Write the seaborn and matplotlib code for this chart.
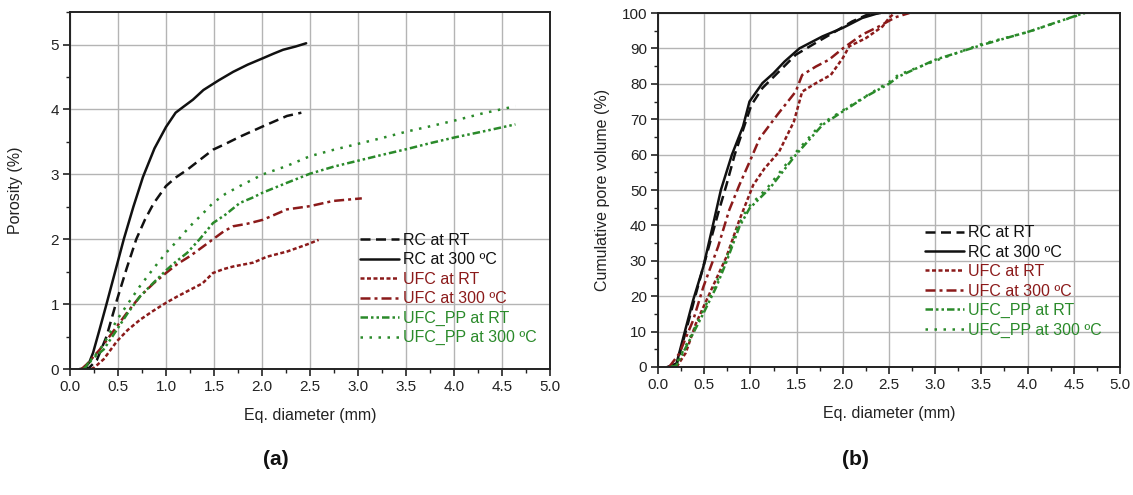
import matplotlib
matplotlib.use("Agg")
import matplotlib.pyplot as plt
from matplotlib.ticker import MultipleLocator
import seaborn as sns
import pandas as pd

# ---- (a) porosity vs equivalent diameter ----
rc_rt_d = [0.15, 0.20, 0.28, 0.38, 0.49, 0.59, 0.69, 0.78, 0.87, 1.00, 1.10, 1.22, 1.35, 1.49, 1.62, 1.77, 2.01, 2.26, 2.41]
rc_rt_por = [0.00, 0.02, 0.14, 0.50, 1.07, 1.55, 2.00, 2.30, 2.55, 2.82, 2.95, 3.07, 3.22, 3.38, 3.47, 3.58, 3.74, 3.90, 3.95]

rc_300_d = [0.10, 0.15, 0.20, 0.24, 0.31, 0.38, 0.47, 0.56, 0.66, 0.76, 0.88, 1.00, 1.10, 1.18, 1.28, 1.39, 1.55, 1.70, 1.85, 2.01, 2.12, 2.22, 2.35, 2.46]
rc_300_por = [0.00, 0.01, 0.10, 0.25, 0.62, 1.00, 1.50, 2.00, 2.50, 2.96, 3.40, 3.73, 3.95, 4.04, 4.15, 4.30, 4.45, 4.58, 4.69, 4.79, 4.86, 4.92, 4.97, 5.02]

ufc_rt_d = [0.22, 0.25, 0.35, 0.49, 0.60, 0.73, 0.87, 1.00, 1.12, 1.25, 1.38, 1.49, 1.60, 1.70, 1.91, 2.05, 2.26, 2.47, 2.59]
ufc_rt_por = [0.00, 0.02, 0.15, 0.43, 0.60, 0.76, 0.90, 1.02, 1.12, 1.22, 1.32, 1.48, 1.54, 1.58, 1.64, 1.73, 1.81, 1.92, 1.99]

ufc_300_d = [0.12, 0.18, 0.31, 0.49, 0.60, 0.73, 0.87, 1.00, 1.12, 1.25, 1.38, 1.49, 1.60, 1.70, 1.85, 2.01, 2.26, 2.50, 2.74, 3.04]
ufc_300_por = [0.00, 0.08, 0.30, 0.66, 0.88, 1.12, 1.32, 1.48, 1.62, 1.74, 1.88, 2.00, 2.12, 2.20, 2.24, 2.30, 2.46, 2.51, 2.59, 2.63]

ufcpp_rt_d = [0.15, 0.20, 0.35, 0.49, 0.60, 0.73, 0.87, 1.00, 1.10, 1.22, 1.35, 1.49, 1.62, 1.77, 1.90, 2.01, 2.26, 2.50, 2.75, 3.00, 3.25, 3.51, 3.75, 4.01, 4.30, 4.64]
ufcpp_rt_por = [0.00, 0.12, 0.30, 0.61, 0.86, 1.12, 1.33, 1.52, 1.65, 1.79, 2.00, 2.25, 2.38, 2.56, 2.64, 2.72, 2.87, 3.01, 3.12, 3.21, 3.30, 3.39, 3.48, 3.57, 3.66, 3.77]

ufcpp_300_d = [0.14, 0.20, 0.35, 0.49, 0.60, 0.73, 0.87, 1.00, 1.12, 1.25, 1.38, 1.49, 1.62, 1.77, 2.01, 2.26, 2.50, 2.75, 3.00, 3.25, 3.51, 3.75, 4.01, 4.30, 4.64]
ufcpp_300_por = [0.00, 0.09, 0.38, 0.76, 1.00, 1.28, 1.55, 1.79, 1.98, 2.20, 2.39, 2.56, 2.70, 2.82, 3.00, 3.13, 3.28, 3.38, 3.47, 3.56, 3.66, 3.74, 3.83, 3.94, 4.05]

# ---- (b) cumulative pore volume vs equivalent diameter ----
rc_rt_cd = [0.15, 0.20, 0.30, 0.43, 0.54, 0.65, 0.74, 0.83, 0.92, 1.01, 1.13, 1.31, 1.49, 1.67, 1.92, 2.10, 2.28, 2.41]
rc_rt_cum = [0.0, 0.5, 10.0, 22.6, 33.0, 43.4, 51.4, 60.0, 67.0, 74.0, 78.8, 83.5, 88.2, 91.0, 94.8, 97.6, 99.7, 100.0]

rc_300_cd = [0.10, 0.20, 0.29, 0.38, 0.49, 0.59, 0.68, 0.80, 0.92, 0.99, 1.13, 1.25, 1.37, 1.53, 1.78, 2.00, 2.21, 2.39]
rc_300_cum = [0.0, 1.0, 10.0, 18.9, 28.3, 39.6, 50.0, 60.0, 68.0, 75.0, 80.2, 83.0, 86.3, 90.0, 93.4, 95.8, 98.6, 100.0]

ufc_rt_cd = [0.20, 0.30, 0.41, 0.59, 0.74, 0.88, 1.03, 1.15, 1.31, 1.47, 1.56, 1.71, 1.87, 2.00, 2.07, 2.25, 2.43, 2.50, 2.56]
ufc_rt_cum = [0.0, 4.0, 12.3, 22.6, 31.1, 41.5, 51.4, 56.0, 60.8, 69.3, 77.8, 80.2, 82.5, 87.3, 90.6, 92.9, 96.2, 98.6, 100.0]

ufc_300_cd = [0.12, 0.23, 0.38, 0.49, 0.65, 0.77, 0.88, 1.00, 1.10, 1.29, 1.49, 1.56, 1.71, 1.85, 2.00, 2.21, 2.39, 2.57, 2.72]
ufc_300_cum = [0.0, 3.8, 13.2, 22.6, 34.0, 44.3, 51.4, 58.5, 64.6, 71.2, 77.8, 82.5, 84.9, 86.8, 90.0, 93.9, 96.2, 98.8, 100.0]

ufcpp_rt_cd = [0.15, 0.20, 0.34, 0.49, 0.63, 0.74, 0.88, 0.99, 1.21, 1.49, 1.78, 2.00, 2.25, 2.50, 2.60, 3.00, 3.51, 4.02, 4.61]
ufcpp_rt_cum = [0.0, 0.5, 7.5, 15.1, 22.6, 29.7, 39.6, 44.8, 50.5, 59.9, 68.4, 72.2, 76.4, 80.0, 82.0, 86.8, 91.0, 94.8, 100.0]

ufcpp_300_cd = [0.14, 0.20, 0.33, 0.48, 0.62, 0.73, 0.86, 0.97, 1.18, 1.47, 1.76, 2.00, 2.25, 2.50, 2.60, 3.00, 3.50, 4.00, 4.62]
ufcpp_300_cum = [0.0, 1.0, 7.5, 15.5, 23.0, 30.0, 39.5, 45.0, 50.5, 60.0, 68.5, 72.5, 76.5, 80.5, 82.5, 86.5, 91.2, 94.6, 100.0]

labels = ["RC at RT", "RC at 300 ºC", "UFC at RT", "UFC at 300 ºC", "UFC_PP at RT", "UFC_PP at 300 ºC"]

BLACK = "#111111"
RED = "#8b1a1a"
GREEN = "#2a8a2a"
colors = [BLACK, BLACK, RED, RED, GREEN, GREEN]
styles = [
    (0, (4.0, 2.2)),              # dashed
    "-",                          # solid
    (0, (1.6, 1.0)),              # short dash
    (0, (4.0, 1.6, 1.2, 1.6)),    # dash-dot
    (0, (3.0, 1.2, 1.0, 1.2, 1.0, 1.2)),  # dash-dot-dot
    (0, (1.0, 2.6)),              # dotted
]

series_a = [(rc_rt_d, rc_rt_por), (rc_300_d, rc_300_por), (ufc_rt_d, ufc_rt_por),
            (ufc_300_d, ufc_300_por), (ufcpp_rt_d, ufcpp_rt_por), (ufcpp_300_d, ufcpp_300_por)]
series_b = [(rc_rt_cd, rc_rt_cum), (rc_300_cd, rc_300_cum), (ufc_rt_cd, ufc_rt_cum),
            (ufc_300_cd, ufc_300_cum), (ufcpp_rt_cd, ufcpp_rt_cum), (ufcpp_300_cd, ufcpp_300_cum)]

sns.set_theme(style="ticks")
plt.rcParams["font.family"] = ["Liberation Sans", "DejaVu Sans"]

fig = plt.figure(figsize=(11.33, 4.95), dpi=100)
ax_a = fig.add_axes([0.0618, 0.2545, 0.4236, 0.7210])
ax_b = fig.add_axes([0.5808, 0.2586, 0.4077, 0.7151])


def draw(ax, series):
    for (xs, ys), lab, col, ls in zip(series, labels, colors, styles):
        df = pd.DataFrame({"d": xs, "v": ys})
        sns.lineplot(data=df, x="d", y="v", ax=ax, color=col, linestyle=ls,
                     linewidth=1.8, label=lab, sort=False, estimator=None)
    ax.set_xlim(0, 5.0)
    ax.xaxis.set_major_locator(MultipleLocator(0.5))
    ax.xaxis.set_minor_locator(MultipleLocator(0.25))
    ax.grid(True, which="major", color="#b4b4b4", linewidth=1.0)
    ax.set_axisbelow(True)
    for sp in ax.spines.values():
        sp.set_color("#222222")
        sp.set_linewidth(1.4)
    ax.tick_params(which="major", direction="out", length=5, width=1.2,
                   labelsize=11, colors="#222222", pad=3)
    ax.tick_params(which="minor", direction="out", length=3, width=1.0, colors="#222222")
    ax.xaxis.set_major_formatter(matplotlib.ticker.FormatStrFormatter("%.1f"))
    ax.set_xlabel("Eq. diameter (mm)", fontsize=11.5, color="#222222", labelpad=10)
    leg = ax.legend(loc="lower right", frameon=False, fontsize=11.5,
                    handlelength=2.5, handletextpad=0.2, labelspacing=0.28,
                    borderaxespad=0.3)
    for txt, col in zip(leg.get_texts(), colors):
        txt.set_color(col)
    return leg


leg_a = draw(ax_a, series_a)
ax_a.set_ylim(0, 5.5)
ax_a.yaxis.set_major_locator(MultipleLocator(1))
ax_a.yaxis.set_minor_locator(MultipleLocator(0.5))
ax_a.set_ylabel("Porosity (%)", fontsize=11.5, color="#222222", labelpad=20)
leg_a.set_bbox_to_anchor((0.995, 0.035), transform=ax_a.transAxes)

leg_b = draw(ax_b, series_b)
ax_b.set_ylim(0, 100)
ax_b.yaxis.set_major_locator(MultipleLocator(10))
ax_b.yaxis.set_minor_locator(MultipleLocator(5))
ax_b.set_ylabel("Cumulative pore volume (%)", fontsize=11.5, color="#222222", labelpad=8)
leg_b.set_bbox_to_anchor((0.984, 0.051), transform=ax_b.transAxes)

fig.text(0.243, 0.06, "(a)", fontsize=15, fontweight="bold", ha="center", color="#111111")
fig.text(0.755, 0.06, "(b)", fontsize=15, fontweight="bold", ha="center", color="#111111")

fig.savefig("out.png", dpi=100)
